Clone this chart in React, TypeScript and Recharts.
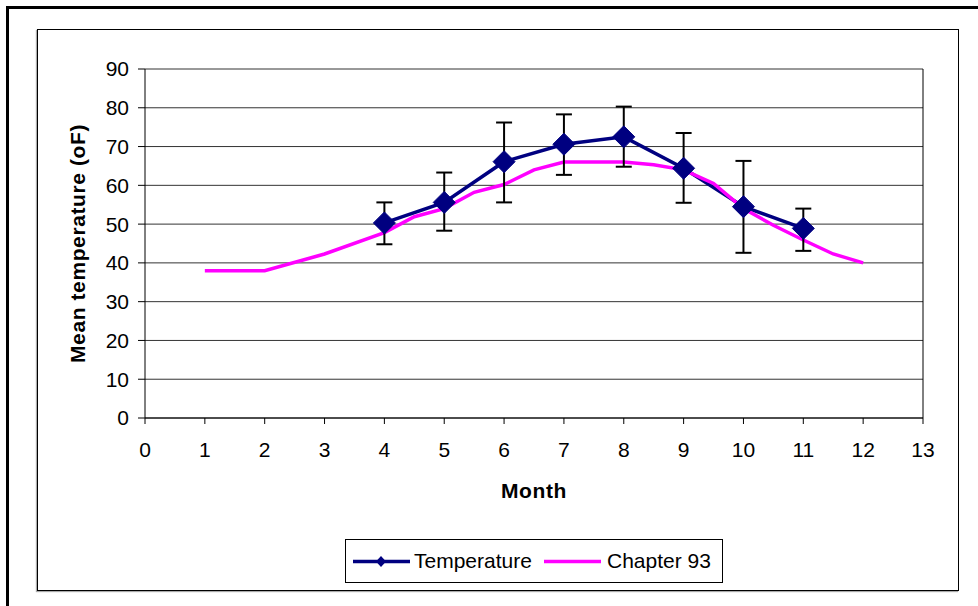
import { LineChart, Line, XAxis, YAxis, CartesianGrid, ErrorBar, ReferenceLine } from "recharts";

// Temperature series (monthly means with error bars)
const months = [4, 5, 6, 7, 8, 9, 10, 11];
const temperature = [50.3, 55.6, 66.1, 70.6, 72.5, 64.4, 54.5, 48.9];
const errLow = [5.5, 7.3, 10.5, 7.9, 7.7, 8.9, 11.9, 5.8];
const errHigh = [5.3, 7.7, 10.1, 7.7, 7.8, 9.1, 11.8, 5.1];

// Chapter 93 reference curve
const chapterMonths = [1, 2, 3, 4, 4.5, 5, 5.5, 6, 6.5, 7, 7.5, 8, 8.5, 9, 9.5, 10, 10.5, 11, 11.5, 12];
const chapter93 = [38, 38, 42.3, 47.8, 51.9, 54, 58.2, 60.2, 64, 66, 66, 66, 65.3, 64, 60.5, 54, 49.7, 45.9, 42.3, 40];

const xTicks = [0, 1, 2, 3, 4, 5, 6, 7, 8, 9, 10, 11, 12, 13];
const yTicks = [0, 10, 20, 30, 40, 50, 60, 70, 80, 90];

const tempData = months.map((m, i) => ({ month: m, temp: temperature[i], err: [errLow[i], errHigh[i]] }));
const chapterData = chapterMonths.map((m, i) => ({ month: m, chapter: chapter93[i] }));

const NAVY = "#000080";
const MAGENTA = "#FF00FF";
const FONT = '"Liberation Sans", Arial, sans-serif';

function Diamond(props: any) {
  const { cx, cy, index } = props;
  if (cx == null || cy == null) return <g key={index} />;
  const r = 11;
  return (
    <path
      key={index}
      d={`M${cx},${cy - r} L${cx + r},${cy} L${cx},${cy + r} L${cx - r},${cy} Z`}
      fill={NAVY}
      stroke={NAVY}
    />
  );
}

export default function App() {
  return (
    <div style={{ position: "absolute", left: 0, top: 0, width: 978, height: 606, background: "#fff", fontFamily: FONT, overflow: "hidden" }}>
      <div style={{ position: "absolute", left: 6, top: 6, right: -10, bottom: -10, borderTop: "3px solid #000", borderLeft: "3px solid #000" }} />
      <div style={{ position: "absolute", left: 37, top: 29, width: 920, height: 560, border: "1.5px solid #000", boxShadow: "-1px 1px 1px #aaa" }} />

      <div style={{ position: "absolute", left: 0, top: 0 }}>
        <LineChart width={978} height={606} margin={{ top: 69, right: 55, left: 11, bottom: 42 }}>
          <CartesianGrid vertical={false} stroke="#333" strokeWidth={1} />
          <XAxis
            dataKey="month"
            type="number"
            domain={[0, 13]}
            ticks={xTicks}
            interval={0}
            height={146}
            tickSize={6}
            tickMargin={18}
            stroke="#000"
            tick={{ fill: "#000", fontSize: 21, fontFamily: FONT }}
            label={{ value: "Month", position: "center", fill: "#000", fontSize: 21, fontWeight: "bold", fontFamily: FONT, letterSpacing: 0.6 }}
          />
          <YAxis
            type="number"
            domain={[0, 90]}
            ticks={yTicks}
            interval={0}
            width={134}
            tickSize={7}
            tickMargin={9}
            stroke="#000"
            tick={{ fill: "#000", fontSize: 21, fontFamily: FONT }}
            label={{ value: "Mean temperature (oF)", angle: -90, position: "center", fill: "#000", fontSize: 21, fontWeight: "bold", fontFamily: FONT, letterSpacing: 0.6 }}
          />
          <ReferenceLine x={13} stroke="#000" strokeWidth={1} />
          <Line
            data={tempData}
            dataKey="temp"
            stroke={NAVY}
            strokeWidth={3.5}
            dot={false}
            activeDot={false}
            isAnimationActive={false}
          />
          <Line
            data={chapterData}
            dataKey="chapter"
            stroke={MAGENTA}
            strokeWidth={3.5}
            dot={false}
            activeDot={false}
            isAnimationActive={false}
          />
          <Line
            data={tempData}
            dataKey="temp"
            stroke="none"
            dot={Diamond}
            activeDot={false}
            isAnimationActive={false}
          >
            <ErrorBar dataKey="err" direction="y" width={8} stroke="#000" strokeWidth={2} />
          </Line>
        </LineChart>
      </div>

      <div style={{ position: "absolute", left: 345, top: 539, width: 376, height: 42, border: "1px solid #000", background: "#fff" }}>
        <svg width={376} height={42} style={{ position: "absolute", left: 0, top: 0 }}>
          <line x1={7} y1={21.5} x2={64} y2={21.5} stroke={NAVY} strokeWidth={3.5} />
          <path d="M35,16 L40,21.5 L35,27 L30,21.5 Z" fill={NAVY} />
          <line x1={198} y1={21.5} x2={255} y2={21.5} stroke={MAGENTA} strokeWidth={3.5} />
        </svg>
        <span style={{ position: "absolute", left: 68, top: 8, fontSize: 21, lineHeight: "25px", color: "#000" }}>Temperature</span>
        <span style={{ position: "absolute", left: 261, top: 8, fontSize: 21, lineHeight: "25px", color: "#000" }}>Chapter 93</span>
      </div>
    </div>
  );
}
